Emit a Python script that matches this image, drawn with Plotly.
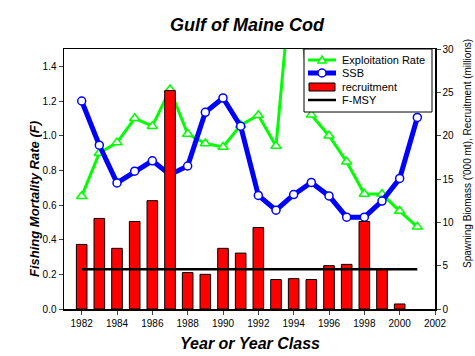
import plotly.graph_objects as go

years = list(range(1982, 2002))
exploitation = [0.65, 0.90, 0.96, 1.10, 1.055, 1.266, 1.01, 0.955, 0.935, 1.06,
                1.118, 0.94, 2.05, 1.12, 1.00, 0.85, 0.663, 0.663, 0.565, 0.474]
ssb = [24.0, 18.9, 14.55, 15.9, 17.1, 15.5, 16.5, 22.7, 24.35, 21.1,
       13.1, 11.4, 13.2, 14.6, 13.05, 10.6, 10.6, 12.45, 15.06, 22.1]
rec_years = list(range(1982, 2001))
recruitment = [7.45, 10.45, 7.0, 10.1, 12.5, 25.2, 4.2, 4.0, 7.0, 6.45,
               9.4, 3.4, 3.5, 3.4, 5.0, 5.15, 10.1, 4.6, 0.58]
fmsy_years = [1982, 2001]
fmsy = [0.23, 0.23]
xticks = list(range(1982, 2003, 2))
legend_labels = ["Exploitation Rate", "SSB", "recruitment", "F-MSY"]

FONT = "Arial, Liberation Sans, Helvetica, sans-serif"

# plot area in pixels
L, R, T, B = 64, 435, 49, 309
def px(v):
    return (v - L) / (R - L)
def py(v):
    return (B - v) / (B - T)

fig = go.Figure()
fig.add_trace(go.Scatter(
    x=years, y=exploitation, name=legend_labels[0], mode="lines+markers",
    line=dict(color="#00ff00", width=3),
    marker=dict(symbol="triangle-up", size=9, color="white",
                line=dict(color="#00ff00", width=1.5)),
    xaxis="x", yaxis="y"))
fig.add_trace(go.Scatter(
    x=years, y=ssb, name=legend_labels[1], mode="lines+markers",
    line=dict(color="#0000ff", width=5),
    marker=dict(symbol="circle", size=8, color="white",
                line=dict(color="#0000ff", width=1.5)),
    xaxis="x", yaxis="y2"))
fig.add_trace(go.Bar(
    x=rec_years, y=recruitment, name=legend_labels[2], width=0.6,
    marker=dict(color="#ff0000", line=dict(color="black", width=1)),
    xaxis="x", yaxis="y3"))
fig.add_trace(go.Scatter(
    x=fmsy_years, y=fmsy, name=legend_labels[3], mode="lines",
    line=dict(color="black", width=2.5),
    xaxis="x", yaxis="y4"))

# hand-drawn legend (compact, like the original)
shapes = []
annotations = []
lx0, lx1, ly0, ly1 = 304, 432, 49, 112
shapes.append(dict(type="rect", xref="paper", yref="paper", layer="above",
                   x0=px(lx0), x1=px(lx1), y0=py(ly1), y1=py(ly0),
                   line=dict(color="black", width=1), fillcolor="white"))
rows = [60, 73, 87, 100]
sx0, sx1, sxm = 308, 336, 322
# exploitation
shapes.append(dict(type="line", xref="paper", yref="paper", layer="above",
                   x0=px(sx0), x1=px(sx1), y0=py(rows[0]), y1=py(rows[0]),
                   line=dict(color="#00ff00", width=3)))
shapes.append(dict(type="path", xref="paper", yref="paper", layer="above",
                   path="M {a},{b} L {c},{d} L {e},{f} Z".format(
                       a=px(sxm - 4), b=py(rows[0] + 3), c=px(sxm + 4), d=py(rows[0] + 3),
                       e=px(sxm), f=py(rows[0] - 4)),
                   fillcolor="white", line=dict(color="#00ff00", width=1.5)))
# SSB
shapes.append(dict(type="line", xref="paper", yref="paper", layer="above",
                   x0=px(sx0), x1=px(sx1), y0=py(rows[1]), y1=py(rows[1]),
                   line=dict(color="#0000ff", width=5)))
shapes.append(dict(type="circle", xref="paper", yref="paper", layer="above",
                   x0=px(sxm - 4), x1=px(sxm + 4), y0=py(rows[1] + 4), y1=py(rows[1] - 4),
                   fillcolor="white", line=dict(color="#0000ff", width=1.5)))
# recruitment
shapes.append(dict(type="rect", xref="paper", yref="paper", layer="above",
                   x0=px(sx0 + 1), x1=px(sx1 - 1), y0=py(rows[2] + 4), y1=py(rows[2] - 4),
                   fillcolor="#ff0000", line=dict(color="black", width=1)))
# F-MSY
shapes.append(dict(type="line", xref="paper", yref="paper", layer="above",
                   x0=px(sx0), x1=px(sx1), y0=py(rows[3]), y1=py(rows[3]),
                   line=dict(color="black", width=2.5)))
for lab, r in zip(legend_labels, rows):
    annotations.append(dict(text=lab, xref="paper", yref="paper", x=px(340), y=py(r),
                            xanchor="left", yanchor="middle", showarrow=False,
                            font=dict(size=11, family=FONT)))

annotations += [
    dict(text="<b><i>Fishing Mortality Rate (F)</i></b>", xref="paper", yref="paper",
         x=px(34), y=py(199), textangle=-90, showarrow=False,
         xanchor="center", yanchor="middle", font=dict(size=13, family=FONT)),
    dict(text="Spawning Biomass ('000 mt), Recruitment (millions)", xref="paper",
         yref="paper", x=px(467), y=py(154), textangle=-90, showarrow=False,
         xanchor="center", yanchor="middle", font=dict(size=10, family=FONT)),
    dict(text="<b><i>Year or Year Class</i></b>", xref="paper", yref="paper",
         x=px(250), y=py(343), showarrow=False, xanchor="center", yanchor="middle",
         font=dict(size=16, family=FONT)),
]

fig.update_layout(
    width=475, height=356,
    margin=dict(l=L, r=475 - R, t=T, b=356 - B),
    paper_bgcolor="white", plot_bgcolor="white",
    font=dict(family=FONT, color="black", size=10),
    title=dict(text="<b><i>Gulf of Maine Cod</i></b>", x=247 / 475, xanchor="center",
               y=1 - 25 / 356, yanchor="middle", font=dict(size=18, family=FONT)),
    showlegend=False,
    xaxis=dict(range=[1981, 2002], tickvals=xticks, ticks="outside", ticklen=4,
               showline=True, linecolor="black", linewidth=1.5, mirror=True,
               showgrid=False, zeroline=False, tickfont=dict(size=10)),
    yaxis=dict(range=[0, 1.5], tickvals=[0, 0.2, 0.4, 0.6, 0.8, 1.0, 1.2, 1.4],
               tickformat=".1f", ticks="outside", ticklen=4,
               showline=True, linecolor="black", linewidth=1.5,
               showgrid=False, zeroline=False, tickfont=dict(size=10)),
    yaxis2=dict(range=[0, 30], tickvals=[0, 5, 10, 15, 20, 25, 30],
                overlaying="y", side="right", ticks="outside", ticklen=4,
                showline=True, linecolor="black", linewidth=1.5,
                showgrid=False, zeroline=False, tickfont=dict(size=10)),
    yaxis3=dict(range=[0, 30], overlaying="y", visible=False),
    yaxis4=dict(range=[0, 1.5], overlaying="y", visible=False),
    barmode="overlay",
    hovermode=False,
    shapes=shapes,
    annotations=annotations,
)

fig.write_html("out.html", config={"displayModeBar": False, "staticPlot": True},
               post_script="document.body.style.margin='0';")
